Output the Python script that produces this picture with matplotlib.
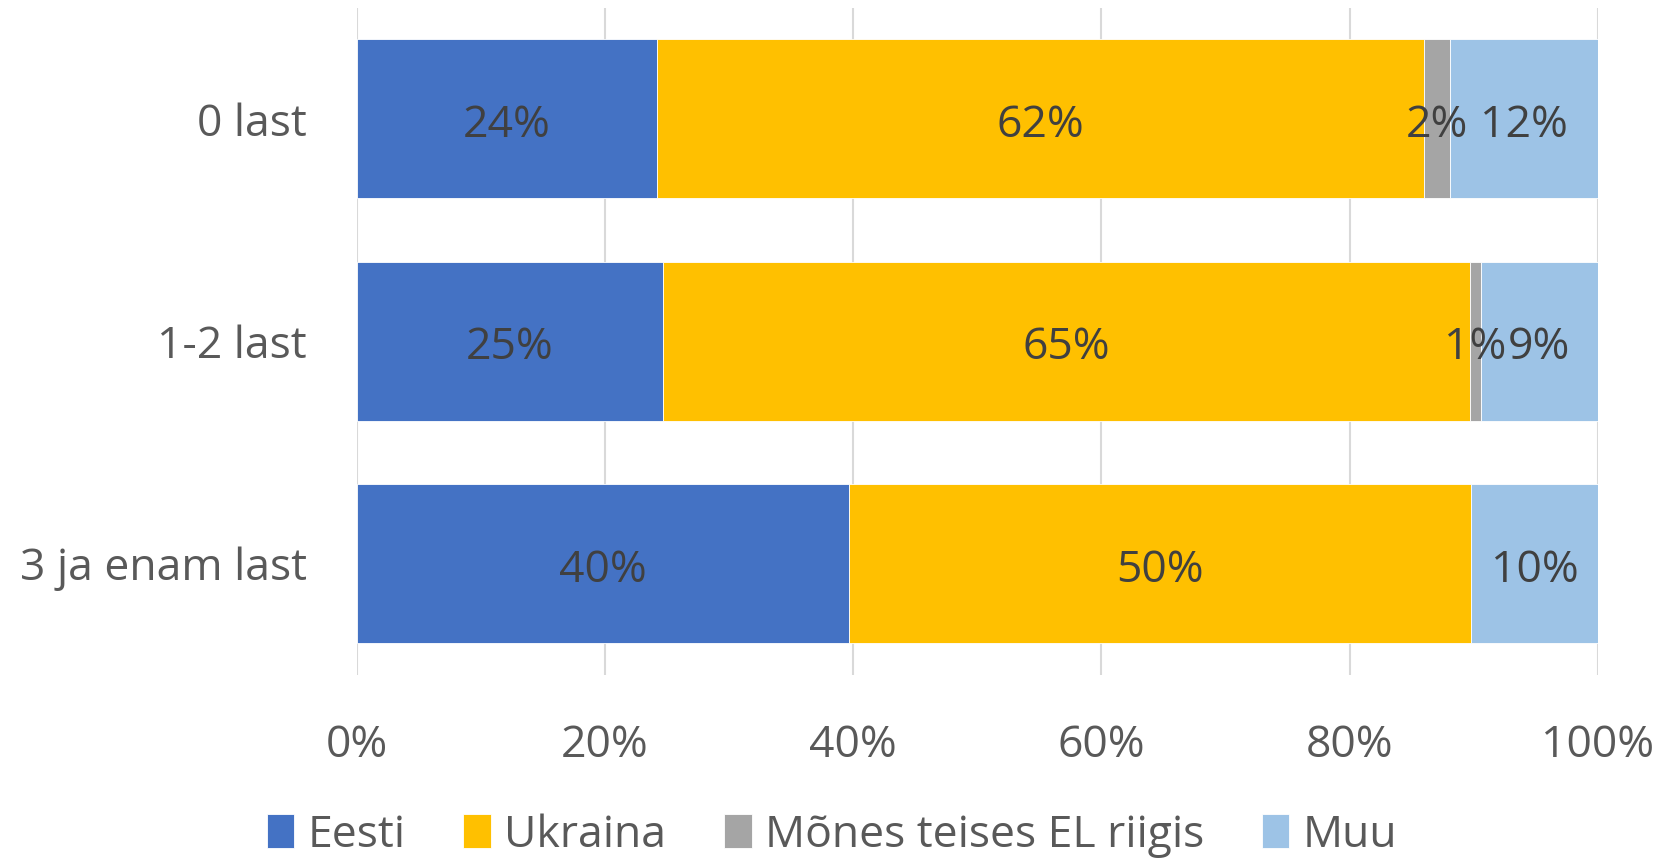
import numpy as np
import matplotlib.pyplot as plt

plt.rcParams['font.family'] = ['Open Sans', 'DejaVu Sans']

categories = ['0 last', '1-2 last', '3 ja enam last']
series = ['Eesti', 'Ukraina', 'Mõnes teises EL riigis', 'Muu']
eesti = [24.2, 24.7, 39.7]
ukraina = [61.8, 65.0, 50.1]
muu_el = [2.1, 0.9, 0.0]
muu = [11.9, 9.4, 10.2]
colors = ['#4472C4', '#FFC000', '#A5A5A5', '#9DC3E6']
xticks = [0, 20, 40, 60, 80, 100]

fig = plt.figure(figsize=(16.64, 8.59), dpi=100)
ax = fig.add_axes([0.2143, 0.2144, 0.7459, 0.7768])

y = np.arange(len(categories))
left = np.zeros(len(categories))
for name, vals, col in zip(series, [eesti, ukraina, muu_el, muu], colors):
    vals = np.array(vals)
    ax.barh(y, vals, left=left, height=0.715, color=col, label=name,
            edgecolor='white', linewidth=0.6, zorder=2)
    for yi, l, v in zip(y, left, vals):
        if v > 0:
            ax.text(l + v / 2, yi + 0.03, '%d%%' % round(v), ha='center', va='center',
                    fontsize=32, color='#404040', zorder=3)
    left = left + vals

ax.set_xlim(0, 100)
ax.set_ylim(2.5, -0.5)
ax.set_yticks(y)
ax.set_yticklabels(categories, fontsize=32, color='#595959')
ax.set_xticks(xticks)
ax.set_xticklabels(['%d%%' % t for t in xticks], fontsize=32, color='#595959')
ax.tick_params(axis='both', length=0)
ax.tick_params(axis='y', pad=36)
ax.tick_params(axis='x', pad=35)
ax.grid(axis='x', color='#D9D9D9', linewidth=1.5, zorder=0)
for s in ax.spines.values():
    s.set_visible(False)

fig.legend(loc='lower center', bbox_to_anchor=(0.5, -0.045), ncol=4, frameon=False,
           fontsize=32, labelcolor='#595959', handlelength=0.62, handleheight=0.8,
           handletextpad=0.3, columnspacing=1.3)

plt.savefig('out.png')
